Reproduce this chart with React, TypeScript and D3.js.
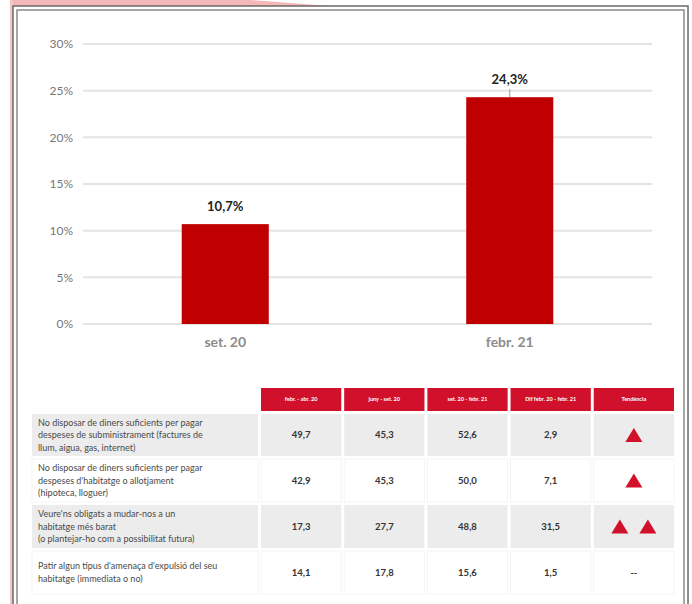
import React from "react";
import * as d3 from "d3";

const categories = ["set. 20", "febr. 21"];
const values = [10.7, 24.3];
const yTicks = [0, 5, 10, 15, 20, 25, 30];

const tableHeaders = ["febr. - abr. 20", "juny - set. 20", "set. 20 - febr. 21", "Dif febr. 20 - febr. 21", "Tendència"];
const rowLabels = [
  ["No disposar de diners suficients per pagar", "despeses de subministrament (factures de", "llum, aigua, gas, internet)"],
  ["No disposar de diners suficients per pagar", "despeses d'habitatge o allotjament", "(hipoteca, lloguer)"],
  ["Veure'ns obligats a mudar-nos a un", "habitatge més barat", "(o plantejar-ho com a possibilitat futura)"],
  ["Patir algun tipus d'amenaça d'expulsió del seu", "habitatge (immediata o no)"],
];
const colFebAbr20 = ["49,7", "42,9", "17,3", "14,1"];
const colJunySet20 = ["45,3", "45,3", "27,7", "17,8"];
const colSet20Febr21 = ["52,6", "50,0", "48,8", "15,6"];
const colDif = ["2,9", "7,1", "31,5", "1,5"];
const trendUps = [1, 1, 2, 0];

const W = 692;
const H = 604;
const RED = "#c00000";
const HEAD_RED = "#d1112b";
const FONT = "Lato, 'Open Sans', sans-serif";

export default function App() {
  const x = d3.scaleBand<string>().domain(categories).range([83, 652]).paddingInner(0.694).paddingOuter(0.347);
  const y = d3.scaleLinear().domain([0, 30]).range([324, 44]);

  const colX = d3.scaleBand<number>().domain([0, 1, 2, 3, 4]).range([261, 674]).paddingInner(0.035).paddingOuter(0);
  const rowTop = [414, 459, 505, 551];
  const rowH = [42, 43, 43, 43];
  const valueCols = [colFebAbr20, colJunySet20, colSet20Febr21, colDif];

  const tri = (cx: number, cy: number) => {
    const w = 17, h = 14;
    return `M${cx - w / 2},${cy + h / 2}L${cx},${cy - h / 2}L${cx + w / 2},${cy + h / 2}Z`;
  };

  return (
    <svg width={W} height={H} style={{ position: "absolute", left: 0, top: 0, background: "#fff" }} fontFamily={FONT}>
      {/* top pink band */}
      <path d="M10,0L250,0L330,6L10,6Z" fill="#f4b8b8" />
      <rect x={10} y={0} width={3} height={H} fill="#f4c6c6" />
      <rect x={13} y={6} width={675} height={H} fill="none" stroke="#6a6a6a" strokeWidth={1.5} />
      <rect x={17} y={10} width={667} height={H} fill="#fff" stroke="#8a8a8a" strokeWidth={1.5} />

      {/* gridlines and y labels */}
      {yTicks.map((t) => (
        <g key={t}>
          <line x1={83} x2={652} y1={y(t)} y2={y(t)} stroke="#e4e4e4" strokeWidth={2} />
          <text x={73} y={y(t)} dy="0.35em" textAnchor="end" fontSize={12} fill="#777">
            {t}%
          </text>
        </g>
      ))}

      {/* bars */}
      {categories.map((c, i) => {
        const bx = x(c)!;
        const bw = x.bandwidth();
        const cx = bx + bw / 2;
        return (
          <g key={c}>
            <rect x={bx} y={y(values[i])} width={bw} height={y(0) - y(values[i])} fill={RED} />
            {i === 1 && <line x1={cx} x2={cx} y1={y(values[i]) - 8} y2={y(values[i])} stroke="#999" strokeWidth={1} />}
            <text x={cx} y={y(values[i]) - 18} dy="0.35em" textAnchor="middle" fontSize={13} fontWeight="bold" fill="#222">
              {values[i].toFixed(1).replace(".", ",")}%
            </text>
            <text x={cx} y={342} dy="0.35em" textAnchor="middle" fontSize={14} fontWeight="bold" fill="#8c8c8c">
              {c}
            </text>
          </g>
        );
      })}

      {/* table header */}
      {tableHeaders.map((h, j) => (
        <g key={h}>
          <rect x={colX(j)!} y={388} width={colX.bandwidth()} height={23} fill={HEAD_RED} />
          <text x={colX(j)! + colX.bandwidth() / 2} y={399.5} dy="0.35em" textAnchor="middle" fontSize={5.5} fontWeight="bold" fill="#fff">
            {h}
          </text>
        </g>
      ))}

      {/* table rows */}
      {rowLabels.map((lines, i) => {
        const shaded = i % 2 === 0;
        const bg = shaded ? "#ececec" : "#fff";
        const top = rowTop[i];
        const h = rowH[i];
        const cy = top + h / 2;
        const lh = 12.5;
        const startY = cy - ((lines.length - 1) * lh) / 2;
        return (
          <g key={i}>
            <rect x={32} y={top} width={226} height={h} fill={bg} stroke={shaded ? "none" : "#f4f4f4"} />
            {lines.map((l, k) => (
              <text key={k} x={38} y={startY + k * lh} dy="0.35em" fontSize={9} fill="#4a4a4a">
                {l}
              </text>
            ))}
            {[0, 1, 2, 3, 4].map((j) => (
              <rect key={j} x={colX(j)!} y={top} width={colX.bandwidth()} height={h} fill={bg} stroke={shaded ? "none" : "#f4f4f4"} />
            ))}
            {valueCols.map((col, j) => (
              <text key={j} x={colX(j)! + colX.bandwidth() / 2} y={cy} dy="0.35em" textAnchor="middle" fontSize={9.5} fontWeight="bold" fill="#333">
                {col[i]}
              </text>
            ))}
            {trendUps[i] === 1 && <path d={tri(colX(4)! + colX.bandwidth() / 2, cy)} fill={HEAD_RED} />}
            {trendUps[i] === 2 && (
              <g>
                <path d={tri(colX(4)! + colX.bandwidth() / 2 - 14, cy)} fill={HEAD_RED} />
                <path d={tri(colX(4)! + colX.bandwidth() / 2 + 14, cy)} fill={HEAD_RED} />
              </g>
            )}
            {trendUps[i] === 0 && (
              <text x={colX(4)! + colX.bandwidth() / 2} y={cy} dy="0.35em" textAnchor="middle" fontSize={9} fontWeight="bold" fill="#333">
                --
              </text>
            )}
          </g>
        );
      })}
    </svg>
  );
}
